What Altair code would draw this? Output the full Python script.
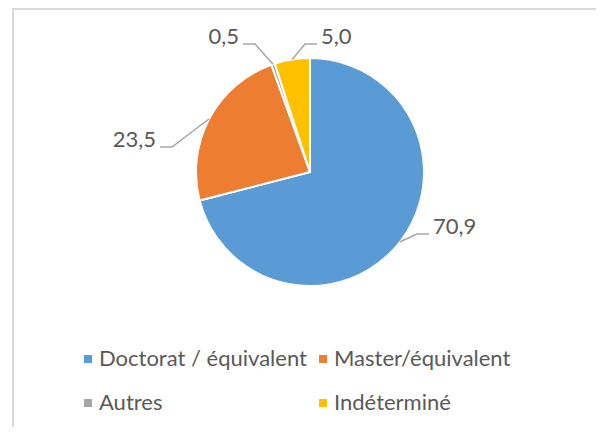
import math
import altair as alt
import pandas as pd

# ---- data ----
categories = ["Doctorat / équivalent", "Master/équivalent", "Autres", "Indéterminé"]
values = [70.9, 23.5, 0.5, 5.0]
value_labels = ["70,9", "23,5", "0,5", "5,0"]
colors = ["#5B9BD5", "#ED7D31", "#A5A5A5", "#FFC000"]
# legend fills column by column: Doctorat, Autres | Master, Indéterminé
legend_order = [0, 2, 1, 3]

# ---- layout (label anchor offsets from pie centre, in px) ----
label_anchor = [(119, 62), (-150, -25), (-67, -128), (7, -128)]
W, H = 588, 419
CX, CY = 302, 164
R = 114
FONT = "Lato"
TXT = "#595959"
FS = 22

xs = alt.Scale(domain=[-CX, W - CX], range=[0, W])
ys = alt.Scale(domain=[-CY, H - CY], range=[0, H])

pie_df = pd.DataFrame({"cat": categories, "value": values,
                       "idx": list(range(len(values))), "zero": 0})

total = sum(values)
cum = 0.0
line_rows, text_rows = [], []
for i, (c, v, lab) in enumerate(zip(categories, values, value_labels)):
    mid = (cum + v / 2) / total * 2 * math.pi
    cum += v
    ex, ey = R * math.sin(mid), -R * math.cos(mid)
    ax, ay = label_anchor[i]
    side = 1 if ax > ex else -1
    elx = ax - side * 12
    for k, (px, py) in enumerate([(ex, ey), (elx, ay), (ax, ay)]):
        line_rows.append({"cat": c, "k": k, "x": px, "y": py})
    text_rows.append({"cat": c, "text": lab, "x": ax + side * 4, "y": ay - 7,
                      "side": "right" if side > 0 else "left"})
line_df = pd.DataFrame(line_rows)
text_df = pd.DataFrame(text_rows)

dom = [categories[i] for i in legend_order]
rng = [colors[i] for i in legend_order]

pie = alt.Chart(pie_df).mark_arc(outerRadius=R, stroke="white", strokeWidth=2).encode(
    theta=alt.Theta("value:Q", stack=True),
    order=alt.Order("idx:Q"),
    x=alt.X("zero:Q", scale=xs, axis=None),
    y=alt.Y("zero:Q", scale=ys, axis=None),
    color=alt.Color("cat:N",
                    scale=alt.Scale(domain=dom, range=rng),
                    legend=alt.Legend(orient="none", legendX=69, legendY=340, columns=2,
                                      title=None, symbolType="square", symbolSize=64,
                                      symbolStrokeWidth=0, labelFont=FONT, labelFontSize=FS,
                                      labelColor=TXT, labelOffset=0, rowPadding=22,
                                      columnPadding=5, labelLimit=400)),
)

lines = alt.Chart(line_df).mark_line(color="#A6A6A6", strokeWidth=1.5).encode(
    x=alt.X("x:Q", scale=xs, axis=None),
    y=alt.Y("y:Q", scale=ys, axis=None),
    detail="cat:N",
    order="k:Q",
)

text_r = alt.Chart(text_df).transform_filter(alt.datum.side == "right").mark_text(
    font=FONT, fontSize=FS, color=TXT, align="left", baseline="middle").encode(
    x=alt.X("x:Q", scale=xs, axis=None), y=alt.Y("y:Q", scale=ys, axis=None), text="text:N")
text_l = alt.Chart(text_df).transform_filter(alt.datum.side == "left").mark_text(
    font=FONT, fontSize=FS, color=TXT, align="right", baseline="middle").encode(
    x=alt.X("x:Q", scale=xs, axis=None), y=alt.Y("y:Q", scale=ys, axis=None), text="text:N")

border_top = alt.Chart(pie_df).mark_rule(color="#D9D9D9", strokeWidth=2).encode(
    x=alt.value(5), x2=alt.value(W), y=alt.value(1))
border_left = alt.Chart(pie_df).mark_rule(color="#D9D9D9", strokeWidth=2).encode(
    x=alt.value(5), y=alt.value(0), y2=alt.value(H))

chart = alt.layer(border_top, border_left, pie, lines, text_r, text_l).properties(
    width=W, height=H, padding=0, autosize="none", background="white"
).configure_view(stroke=None)

chart.save("out.html", embed_options={"renderer": "svg", "actions": False})
